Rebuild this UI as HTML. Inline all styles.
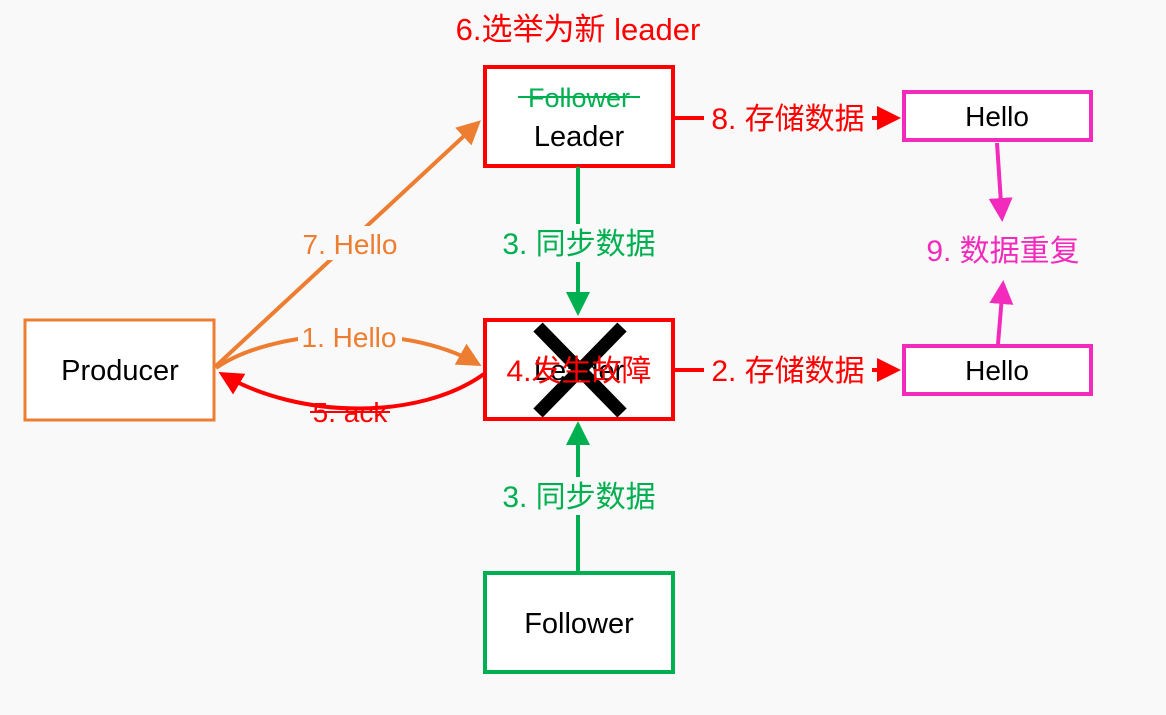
<!DOCTYPE html>
<html><head><meta charset="utf-8"><style>
html,body{margin:0;padding:0;background:#f9f9f9;}
svg{display:block}
text{font-family:"Liberation Sans","Noto Sans CJK SC",sans-serif;}
</style></head><body>
<svg width="1166" height="715" viewBox="0 0 1166 715">
<defs>
<marker id="ao" markerWidth="6" markerHeight="6" refX="5" refY="3" orient="auto" markerUnits="strokeWidth"><path d="M0,0 L6,3 L0,6 z" fill="#ed7d31"/></marker>
<marker id="ar" markerWidth="6" markerHeight="6" refX="5" refY="3" orient="auto" markerUnits="strokeWidth"><path d="M0,0 L6,3 L0,6 z" fill="#ff0000"/></marker>
<marker id="ag" markerWidth="6" markerHeight="6" refX="5" refY="3" orient="auto" markerUnits="strokeWidth"><path d="M0,0 L6,3 L0,6 z" fill="#00b050"/></marker>
<marker id="ap" markerWidth="6" markerHeight="6" refX="5" refY="3" orient="auto" markerUnits="strokeWidth"><path d="M0,0 L6,3 L0,6 z" fill="#f22bbd"/></marker>
</defs>
<!-- boxes -->
<rect x="25" y="320" width="189" height="100" fill="#fff" stroke="#ed7d31" stroke-width="3"/>
<text x="120" y="380" font-size="29" text-anchor="middle" fill="#000">Producer</text>
<rect x="485" y="67" width="188" height="99" fill="#fff" stroke="#ff0000" stroke-width="4"/>
<text x="579" y="107" font-size="27" text-anchor="middle" fill="#00b050">Follower</text>
<line x1="518" y1="97" x2="640" y2="97" stroke="#00b050" stroke-width="2"/>
<text x="579" y="146" font-size="29" text-anchor="middle" fill="#000">Leader</text>
<rect x="485" y="320" width="188" height="99" fill="#fff" stroke="#ff0000" stroke-width="4"/>
<text x="579" y="380" font-size="29" text-anchor="middle" fill="#000">Leader</text>
<rect x="485" y="573" width="188" height="99" fill="#fff" stroke="#00b050" stroke-width="4"/>
<text x="579" y="633" font-size="29" text-anchor="middle" fill="#000">Follower</text>
<rect x="904" y="92" width="187" height="48" fill="#fff" stroke="#f22bbd" stroke-width="4"/>
<text x="997" y="126" font-size="28" text-anchor="middle" fill="#000">Hello</text>
<rect x="904" y="346" width="187" height="48" fill="#fff" stroke="#f22bbd" stroke-width="4"/>
<text x="997" y="380" font-size="28" text-anchor="middle" fill="#000">Hello</text>
<!-- connectors -->
<line x1="216" y1="366" x2="478" y2="123" stroke="#ed7d31" stroke-width="4" marker-end="url(#ao)"/>
<path d="M216,368 C270,330 400,320 478,364" fill="none" stroke="#ed7d31" stroke-width="4" marker-end="url(#ao)"/>
<path d="M484,374 C420,420 300,420 222,374" fill="none" stroke="#ff0000" stroke-width="4" marker-end="url(#ar)"/>
<line x1="578" y1="167" x2="578" y2="312" stroke="#00b050" stroke-width="4" marker-end="url(#ag)"/>
<line x1="578" y1="572" x2="578" y2="425" stroke="#00b050" stroke-width="4" marker-end="url(#ag)"/>
<line x1="675" y1="118" x2="897" y2="118" stroke="#ff0000" stroke-width="4" marker-end="url(#ar)"/>
<line x1="675" y1="370" x2="897" y2="370" stroke="#ff0000" stroke-width="4" marker-end="url(#ar)"/>
<line x1="997" y1="143" x2="1002" y2="218" stroke="#f22bbd" stroke-width="4" marker-end="url(#ap)"/>
<line x1="998" y1="344" x2="1003" y2="284" stroke="#f22bbd" stroke-width="4" marker-end="url(#ap)"/>
<!-- labels -->
<g font-size="30" text-anchor="middle">
<rect x="298" y="226" width="104" height="34" fill="#f9f9f9"/>
<text x="350" y="254" fill="#ed7d31" font-size="28">7. Hello</text>
<rect x="298" y="320" width="104" height="34" fill="#f9f9f9"/>
<text x="349" y="347" fill="#ed7d31" font-size="28">1. Hello</text>
<text x="350" y="422" fill="#ff0000" font-size="28">5. ack</text>
<line x1="310" y1="412" x2="390" y2="412" stroke="#ff0000" stroke-width="2"/>
<rect x="496" y="224" width="166" height="38" fill="#f9f9f9"/>
<text x="579" y="254" fill="#00b050">3. 同步数据</text>
<rect x="496" y="477" width="166" height="38" fill="#f9f9f9"/>
<text x="579" y="507" fill="#00b050">3. 同步数据</text>
<rect x="704" y="99" width="168" height="38" fill="#f9f9f9"/>
<text x="788" y="129" fill="#ff0000">8. 存储数据</text>
<rect x="704" y="351" width="168" height="38" fill="#f9f9f9"/>
<text x="788" y="381" fill="#ff0000">2. 存储数据</text>
<text x="1003" y="261" fill="#f22bbd">9. 数据重复</text>
<text x="578" y="40" fill="#ff0000" font-size="31">6.选举为新 leader</text>
</g>
<!-- X -->
<line x1="538" y1="327" x2="622" y2="413" stroke="#000" stroke-width="13"/>
<line x1="622" y1="327" x2="538" y2="413" stroke="#000" stroke-width="13"/>
<text x="579" y="381" font-size="30" text-anchor="middle" fill="#ff0000">4.发生故障</text>
</svg>
</body></html>
